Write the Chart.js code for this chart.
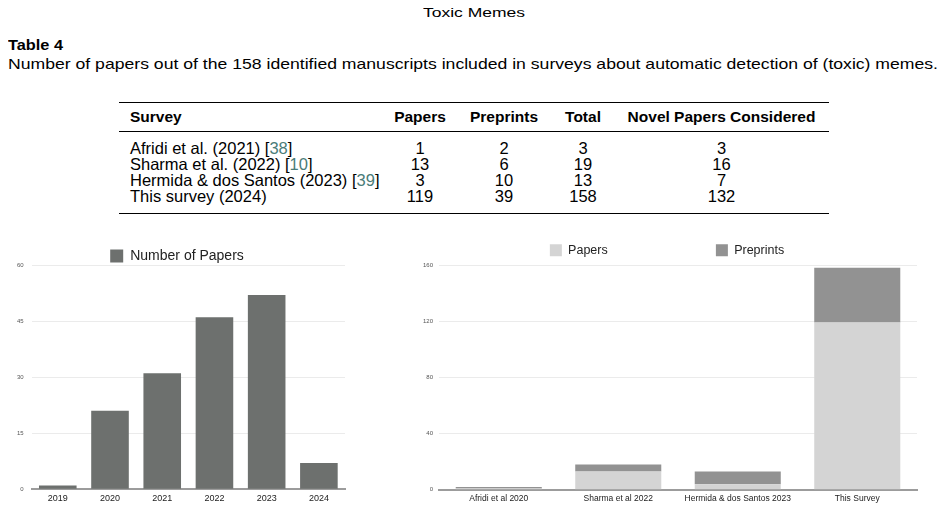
<!DOCTYPE html>
<html lang="en">
<head>
    <meta charset="UTF-8">
    <title>Toxic Memes - Table 4</title>
    <script src="https://cdn.jsdelivr.net/npm/chart.js"></script>
    <style>
        body{
            margin: 0;
            padding: 0;
            width: 947px;
            height: 510px;
            overflow: hidden;
            background: #fff;
            position: relative;
            font-family: 'Liberation Sans', Arial, sans-serif;
            color: #000;
        }
        .txt {
            position: absolute;
            white-space: nowrap;
            line-height: 1;
            transform-origin: left top;
        }
        #tbl {
            position: absolute;
            left: 119px;
            top: 102px;
            border-collapse: collapse;
            table-layout: fixed;
            width: 710px;
            font-size: 16.5px;
        }
        #tbl thead tr { border-top: 1.6px solid #000; border-bottom: 1px solid #000; }
        #tbl th { height: 28px; padding: 0; font-size: 15.5px; text-align: center; }
        #tbl td { height: 16px; line-height: 16px; padding: 0; text-align: center; }
        #tbl th:first-child, #tbl td:first-child { text-align: left; padding-left: 11px; }
        #tbl tbody tr:first-child td { padding-top: 8px; }
        #tbl tbody tr:last-child td { padding-bottom: 9px; }
        #tbl tbody tr:last-child { border-bottom: 1.6px solid #000; }
        .ref { color: #4a7c78; }
        .box { position: absolute; }
    </style>
</head>
<body>
    <div class="txt" style="left:423px;top:6px;font-size:13px" data-w="102">Toxic Memes</div>
    <div class="txt" style="left:8px;top:37px;font-size:15px;font-weight:bold" data-w="55">Table 4</div>
    <div class="txt" style="left:8px;top:56px;font-size:15px" data-w="930">Number of papers out of the 158 identified manuscripts included in surveys about automatic detection of (toxic) memes.</div>

    <table id="tbl">
        <colgroup><col style="width:265px"><col style="width:72px"><col style="width:96px"><col style="width:62px"><col style="width:215px"></colgroup>
        <thead><tr id="thead-row"></tr></thead>
        <tbody id="tbody"></tbody>
    </table>

    <div class="box" style="left:0;top:240px;width:356px;height:270px">
        <canvas id="yearChart"></canvas>
    </div>
    <div class="box" style="left:400px;top:240px;width:538px;height:270px">
        <canvas id="surveyChart"></canvas>
    </div>

    <script>
        // table 4
        const tableHeaders = ['Survey', 'Papers', 'Preprints', 'Total', 'Novel Papers Considered'];
        const tableSurveys = ['Afridi et al. (2021)', 'Sharma et al. (2022)', 'Hermida & dos Santos (2023)', 'This survey (2024)'];
        const tableRefs = ['38', '10', '39', null];
        const tablePapers = [1, 13, 3, 119];
        const tablePreprints = [2, 6, 10, 39];
        const tableTotal = [3, 19, 13, 158];
        const tableNovel = [3, 16, 7, 132];

        // left chart
        const years = ['2019', '2020', '2021', '2022', '2023', '2024'];
        const papersPerYear = [1, 21, 31, 46, 52, 7];
        const yearTicks = [0, 15, 30, 45, 60];

        // right chart
        const surveyLabels = ['Afridi et al 2020', 'Sharma et al 2022', 'Hermida & dos Santos 2023', 'This Survey'];
        const surveyPapers = [1, 13, 4, 119];
        const surveyPreprints = [1, 5, 9, 39];
        const surveyTicks = [0, 40, 80, 120, 160];

        const headRow = document.getElementById('thead-row');
        tableHeaders.forEach(h => {
            const th = document.createElement('th');
            th.textContent = h;
            headRow.appendChild(th);
        });
        const tbody = document.getElementById('tbody');
        tableSurveys.forEach((s, i) => {
            const tr = document.createElement('tr');
            const first = document.createElement('td');
            first.textContent = s;
            if (tableRefs[i]) {
                first.append(' [');
                const sp = document.createElement('span');
                sp.className = 'ref';
                sp.textContent = tableRefs[i];
                first.append(sp, ']');
            }
            tr.appendChild(first);
            [tablePapers[i], tablePreprints[i], tableTotal[i], tableNovel[i]].forEach(v => {
                const td = document.createElement('td');
                td.textContent = v;
                tr.appendChild(td);
            });
            tbody.appendChild(tr);
        });

        // stretch the LaTeX-ish lines to their widths in the page
        function fitText() {
            document.querySelectorAll('[data-w]').forEach(el => {
                el.style.transform = '';
                const w = el.getBoundingClientRect().width;
                el.style.transform = 'scaleX(' + (el.dataset.w / w) + ')';
            });
        }
        fitText();

        Chart.defaults.font.family = "'Liberation Sans', Arial, sans-serif";
        Chart.defaults.color = '#222';

        const gridColor = '#ebebeb';
        const axisColor = '#9c9c9c';

        new Chart(document.getElementById('yearChart'), {
            type: 'bar',
            data: {
                labels: years,
                datasets: [{
                    label: 'Number of Papers',
                    data: papersPerYear,
                    backgroundColor: '#6d706e',
                    borderWidth: 0
                }]
            },
            options: {
                responsive: true,
                maintainAspectRatio: false,
                animation: false,
                devicePixelRatio: 1,
                layout: { padding: { left: 9, right: 11, bottom: 2 } },
                plugins: {
                    legend: {
                        maxHeight: 25,
                        labels: { boxWidth: 13, boxHeight: 13, padding: 9, font: { size: 14 }, color: '#222' }
                    },
                    tooltip: { enabled: false }
                },
                scales: {
                    x: {
                        grid: { display: false, drawTicks: false },
                        border: { color: axisColor, width: 2 },
                        ticks: { font: { size: 9 }, color: '#222', padding: 4 }
                    },
                    y: {
                        min: yearTicks[0],
                        max: yearTicks[yearTicks.length - 1],
                        ticks: { stepSize: yearTicks[1] - yearTicks[0], font: { size: 6 }, color: '#555', padding: 8 },
                        grid: { color: gridColor, drawTicks: false },
                        border: { display: false }
                    }
                }
            }
        });

        new Chart(document.getElementById('surveyChart'), {
            type: 'bar',
            data: {
                labels: surveyLabels,
                datasets: [{
                    label: 'Papers',
                    data: surveyPapers,
                    backgroundColor: '#d4d4d4',
                    borderWidth: 0
                }, {
                    label: 'Preprints',
                    data: surveyPreprints,
                    backgroundColor: '#929292',
                    borderWidth: 0
                }]
            },
            options: {
                responsive: true,
                maintainAspectRatio: false,
                animation: false,
                devicePixelRatio: 1,
                layout: { padding: { left: 17, right: 21, bottom: 2 } },
                plugins: {
                    legend: {
                        maxHeight: 25,
                        labels: {
                            boxWidth: 12, boxHeight: 12, padding: 4, font: { size: 12.5 }, color: '#222',
                            // wide gap between the two legend entries, as in the figure
                            generateLabels: chart => Chart.defaults.plugins.legend.labels.generateLabels(chart)
                                .map((l, i) => i === 0 ? Object.assign(l, { text: l.text + ' '.repeat(30) }) : l)
                        }
                    },
                    tooltip: { enabled: false }
                },
                scales: {
                    x: {
                        stacked: true,
                        grid: { display: false, drawTicks: false },
                        border: { color: axisColor, width: 2 },
                        ticks: { font: { size: 8.5 }, color: '#222', padding: 4 }
                    },
                    y: {
                        stacked: true,
                        min: surveyTicks[0],
                        max: surveyTicks[surveyTicks.length - 1],
                        ticks: { stepSize: surveyTicks[1] - surveyTicks[0], font: { size: 6 }, color: '#555', padding: 6 },
                        grid: { color: gridColor, drawTicks: false },
                        border: { display: false }
                    }
                }
            }
        });
    </script>
</body>
</html>
